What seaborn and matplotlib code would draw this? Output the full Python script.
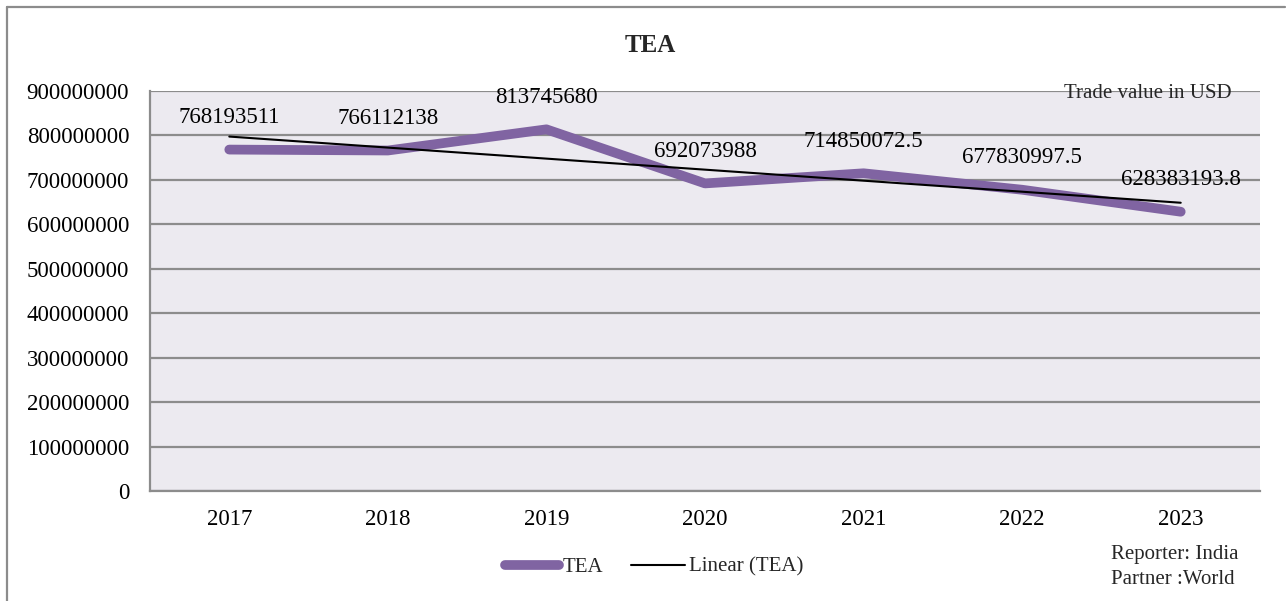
import matplotlib
matplotlib.use("Agg")
import matplotlib.pyplot as plt
import matplotlib.ticker as mticker
from matplotlib.lines import Line2D
import seaborn as sns
import pandas as pd

years = [2017, 2018, 2019, 2020, 2021, 2022, 2023]
values = [768193511, 766112138, 813745680, 692073988, 714850072.5, 677830997.5, 628383193.8]
title = "TEA"
series_name = "TEA"
trend_name = "Linear (TEA)"

df = pd.DataFrame({"year": years, "value": values})

sns.set_style("white")
plt.rcParams["font.family"] = ["Liberation Serif", "DejaVu Serif"]

W, H = 1286, 601
fig = plt.figure(figsize=(W / 100, H / 100), dpi=100)
ax = fig.add_axes([150 / W, 1 - 491 / H, 1110 / W, 400 / H])
ax.set_facecolor("#ECEAF0")

purple = "#8064A2"
grid_c = "#8C8C8C"

sns.lineplot(data=df, x="year", y="value", ax=ax, color=purple, linewidth=7,
             solid_capstyle="round", solid_joinstyle="round", label=series_name, zorder=3)
sns.regplot(data=df, x="year", y="value", ax=ax, scatter=False, ci=None, truncate=True,
            line_kws=dict(color="black", linewidth=1.5, zorder=4), label=trend_name)

for x, v in zip(years, values):
    ax.annotate(str(v), (x, v), xytext=(0, 23), textcoords="offset points",
                ha="center", va="center", fontsize=16.5, color="black", zorder=5)

ax.set_xlim(years[0] - 0.5, years[-1] + 0.5)
ax.set_ylim(0, 900000000)
ax.set_xticks(years)
ax.set_xticklabels([str(y) for y in years])
ax.yaxis.set_major_locator(mticker.MultipleLocator(100000000))
ax.yaxis.set_major_formatter(mticker.FuncFormatter(lambda v, p: f"{int(round(v))}"))
ax.tick_params(axis="both", length=0, labelsize=16.5, colors="black")
ax.tick_params(axis="y", pad=15)
ax.tick_params(axis="x", pad=13)
ax.set_xlabel("")
ax.set_ylabel("")
ax.grid(axis="y", color=grid_c, linewidth=1.6)
ax.grid(axis="x", visible=False)
ax.set_axisbelow(True)
for s in ["top", "right"]:
    ax.spines[s].set_visible(False)
for s in ["left", "bottom"]:
    ax.spines[s].set_color(grid_c)
    ax.spines[s].set_linewidth(1.6)

leg = ax.legend(loc="center", bbox_to_anchor=(654 / W, 1 - 567 / H), bbox_transform=fig.transFigure,
                ncol=2, frameon=False, fontsize=15, handlelength=2.6, handletextpad=0.2,
                columnspacing=1.3)

fig.text(650 / W, 1 - 45 / H, title, ha="center", va="center", fontsize=18, fontweight="bold")
fig.text(1232 / W, 1 - 93 / H, "Trade value in USD", ha="right", va="center", fontsize=15,
         family=["Liberation Serif"], zorder=10)
fig.text(1111 / W, 1 - 554 / H, "Reporter: India", ha="left", va="center", fontsize=15)
fig.text(1111 / W, 1 - 579 / H, "Partner :World", ha="left", va="center", fontsize=15)

fig.add_artist(Line2D([7 / W, 1285 / W], [1 - 7 / H, 1 - 7 / H], color=grid_c, linewidth=1.6,
                      transform=fig.transFigure))
fig.add_artist(Line2D([7 / W, 7 / W], [1 - 7 / H, 0], color=grid_c, linewidth=1.6,
                      transform=fig.transFigure))

fig.savefig("out.png", dpi=100)
